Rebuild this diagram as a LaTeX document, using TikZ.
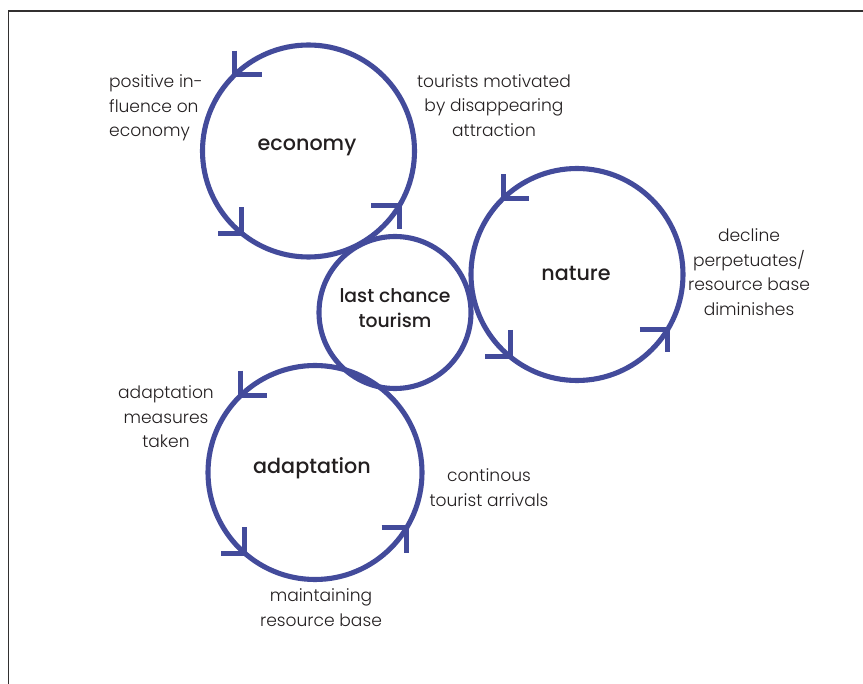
\documentclass[tikz,border=0pt]{standalone}
\usepackage{fontspec}
\setmainfont{Poppins}[UprightFont=* Light, BoldFont=* Medium]
\definecolor{ringblue}{RGB}{67,75,155}
\definecolor{framegray}{RGB}{50,48,48}
\definecolor{txt}{RGB}{35,31,32}
\begin{document}
\begin{tikzpicture}[x=1pt,y=-1pt,
  ring/.style={draw=ringblue, line width=5.1pt, circle, inner sep=0pt, outer sep=0pt},
  barb/.style={draw=ringblue, line width=5.1pt, line cap=butt, line join=miter},
  title/.style={text=txt, font=\fontsize{20.7}{25}\selectfont\bfseries, inner sep=0pt},
  lbl/.style={text=txt, font=\fontsize{17.1}{24.5}\selectfont, inner sep=0pt}]
\useasboundingbox (0,0) rectangle (863,684);
\draw[framegray, line width=1.4pt] (8.5,684) -- (8.5,11) -- (863,11);
% circles
\node[ring, minimum size=212pt] (eco) at (308.5,151) {};
\node[ring, minimum size=212pt] (nat) at (577,274.5) {};
\node[ring, minimum size=214pt] (ada) at (315,472.5) {};
\node[ring, minimum size=152pt] (lct) at (395,312.5) {};
% circle labels
\node[title] (ecot) at (307,147) {economy};
\node[title] (natt) at (576,273) {nature};
\node[title] (adat) at (312,468) {adaptation};
\node[title, font=\fontsize{18.8}{25}\selectfont\bfseries, align=center] (lctt) at (395,308.5) {last chance\\tourism};
% arrowheads: economy
\draw[barb] (eco.134) ++(0,-24) -- (eco.134) -- ++(27,0);
\draw[barb] (eco.231) ++(0,-26) -- (eco.231) -- ++(-24,0);
\draw[barb] (eco.-31) ++(-28,0) -- (eco.-31) -- ++(0,23);
% arrowheads: nature
\draw[barb] (nat.134) ++(0,-24) -- (nat.134) -- ++(26,0);
\draw[barb] (nat.231) ++(0,-27) -- (nat.231) -- ++(-25,0);
\draw[barb] (nat.-31) ++(-28,0) -- (nat.-31) -- ++(0,23);
% arrowheads: adaptation
\draw[barb] (ada.134) ++(0,-25) -- (ada.134) -- ++(26,0);
\draw[barb] (ada.229) ++(0,-26) -- (ada.229) -- ++(-24,0);
\draw[barb] (ada.-31) ++(-25,0) -- (ada.-31) -- ++(0,25);
% labels
\node[lbl, align=left, anchor=west] (l1) at (109,108) {positive in-\\fluence on\\economy};
\node[lbl, align=center] (l2) at (494,105.5) {tourists motivated\\by disappearing\\attraction};
\node[lbl, align=center] (l3) at (749,272) {decline\\perpetuates/\\resource base\\diminishes};
\node[lbl, align=center] (l4) at (166,417) {adaptation\\measures\\taken};
\node[lbl, align=center] (l5) at (489,487.5) {continous\\tourist arrivals};
\node[lbl, align=center] (l6) at (321,607.5) {maintaining\\resource base};
\end{tikzpicture}
\end{document}
